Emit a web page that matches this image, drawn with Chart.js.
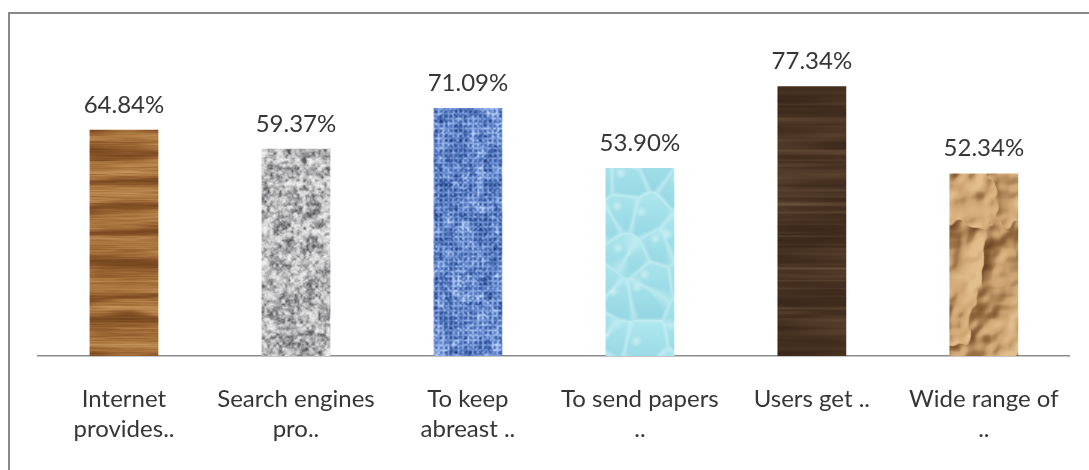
<!DOCTYPE html>
<html>
<head>
<meta charset="utf-8">
<script src="https://cdn.jsdelivr.net/npm/chart.js@4/dist/chart.umd.min.js"></script>
<style>
  html, body { margin: 0; padding: 0; background: #ffffff; overflow: hidden; }
  #frame {
    position: absolute; left: 8px; top: 12px; width: 1200px; height: 600px;
    border: 2px solid #888888; box-sizing: border-box;
  }
  #chart { position: absolute; left: 0; top: 0; }
</style>
</head>
<body>
<div id="frame"></div>
<canvas id="chart" width="1089" height="470"></canvas>
<script>
// Survey answers and their share of respondents (%)
const categories = [
  ['Internet', 'provides..'],
  ['Search engines', 'pro..'],
  ['To keep', 'abreast ..'],
  ['To send papers', '..'],
  ['Users get ..'],
  ['Wide range of', '..']
];
const shares = [64.84, 59.37, 71.09, 53.90, 77.34, 52.34];
const valueLabels = ['64.84%', '59.37%', '71.09%', '53.90%', '77.34%', '52.34%'];

// ---------- seamless procedural textures for the bar fills ----------
const TILE = 256;

function hash(ix, iy, seed) {
  let h = Math.imul(ix, 374761393) ^ Math.imul(iy, 668265263) ^ Math.imul(seed, 1442695041);
  h = Math.imul(h ^ (h >>> 13), 1274126177);
  h = h ^ (h >>> 16);
  return (h >>> 0) / 4294967296;
}

function vnoise(x, y, cx, cy, seed) {
  const px = Math.max(1, Math.round(TILE / cx)), py = Math.max(1, Math.round(TILE / cy));
  const fx = x / cx, fy = y / cy;
  const ix = Math.floor(fx), iy = Math.floor(fy);
  const tx = fx - ix, ty = fy - iy;
  const sx = tx * tx * (3 - 2 * tx), sy = ty * ty * (3 - 2 * ty);
  const x0 = ((ix % px) + px) % px, x1 = (x0 + 1) % px;
  const y0 = ((iy % py) + py) % py, y1 = (y0 + 1) % py;
  const a = hash(x0, y0, seed), b = hash(x1, y0, seed);
  const c = hash(x0, y1, seed), d = hash(x1, y1, seed);
  const top = a + (b - a) * sx, bot = c + (d - c) * sx;
  return top + (bot - top) * sy;
}

function fbm(x, y, cx, cy, oct, seed) {
  let sum = 0, amp = 0.5, tot = 0;
  for (let k = 0; k < oct; k++) {
    sum += amp * vnoise(x, y, Math.max(1, cx), Math.max(1, cy), seed + k * 17);
    tot += amp; amp *= 0.5; cx /= 2; cy /= 2;
  }
  return sum / tot;
}

const clamp = v => Math.max(0, Math.min(255, v));
const mix = (a, b, t) => [a[0] + (b[0] - a[0]) * t, a[1] + (b[1] - a[1]) * t, a[2] + (b[2] - a[2]) * t];
const ramp = (stops, t) => {
  t = Math.max(0, Math.min(1, t));
  const n = stops.length - 1, i = Math.min(n - 1, Math.floor(t * n));
  return mix(stops[i], stops[i + 1], t * n - i);
};

function makeTile(fn) {
  const c = document.createElement('canvas');
  c.width = TILE; c.height = TILE;
  const g = c.getContext('2d');
  const img = g.createImageData(TILE, TILE);
  for (let y = 0; y < TILE; y++) {
    for (let x = 0; x < TILE; x++) {
      const col = fn(x, y);
      const o = (y * TILE + x) * 4;
      img.data[o] = clamp(col[0]); img.data[o + 1] = clamp(col[1]);
      img.data[o + 2] = clamp(col[2]); img.data[o + 3] = 255;
    }
  }
  g.putImageData(img, 0, 0);
  return g.createPattern(c, 'repeat');
}

// light oak planks: soft horizontal grain with a few darker bands
function lightWood(x, y) {
  const warp = fbm(x, y, 128, 32, 3, 11);
  const ring = 0.5 + 0.5 * Math.sin(2 * Math.PI * (y / TILE * 9 + warp * 1.8));
  const streak = fbm(x, y, 64, 4, 4, 23);
  const fine = fbm(x, y, 32, 1, 2, 37);
  const dark = Math.pow(ring, 4);
  const t = 0.45 * streak + 0.3 * fine + 0.25 * (1 - ring);
  let col = ramp([[128, 78, 34], [166, 112, 58], [196, 148, 92]], (t - 0.2) * 1.6);
  return mix(col, [104, 58, 22], dark * 0.55);
}

// speckled grey granite
function granite(x, y) {
  const n = fbm(x, y, 8, 8, 3, 31) * 0.5 + fbm(x, y, 3, 3, 2, 47) * 0.5;
  const t = Math.max(0, Math.min(1, (n - 0.22) * 1.9));
  return ramp([[90, 90, 92], [150, 150, 152], [205, 205, 206], [238, 238, 238]], t);
}

// woven blue cloth
function blueCloth(x, y) {
  const gx = 0.5 + 0.5 * Math.cos(2 * Math.PI * x * 52 / TILE);
  const gy = 0.5 + 0.5 * Math.cos(2 * Math.PI * y * 52 / TILE);
  const n = fbm(x, y, 8, 8, 3, 59);
  const w = 0.5 * n + 0.25 * Math.max(gx, gy) + 0.25 * fbm(x, y, 2, 2, 1, 71);
  return ramp([[36, 62, 126], [68, 102, 172], [118, 152, 216], [184, 208, 248]], (w - 0.2) * 1.6);
}

// water droplets
function droplets(x, y) {
  const cell = 32, per = TILE / cell;
  const cx = Math.floor(x / cell), cy = Math.floor(y / cell);
  let f1 = 1e9, f2 = 1e9, fx = 0, fy = 0;
  for (let j = -1; j <= 1; j++) {
    for (let i = -1; i <= 1; i++) {
      const ix = cx + i, iy = cy + j;
      const wx = ((ix % per) + per) % per, wy = ((iy % per) + per) % per;
      const px = (ix + hash(wx, wy, 83)) * cell, py = (iy + hash(wx, wy, 97)) * cell;
      const d = Math.hypot(x - px, y - py);
      if (d < f1) { f2 = f1; f1 = d; fx = px; fy = py; } else if (d < f2) { f2 = d; }
    }
  }
  const edge = Math.max(0, 1 - (f2 - f1) / 6);
  const hl = Math.max(0, 1 - Math.hypot(x - fx + 5, y - fy + 6) / 6);
  const shade = ((y - fy) / cell) * 0.5 + 0.5;
  let col = mix([178, 232, 240], [142, 212, 224], Math.max(0, Math.min(1, shade)));
  col = mix(col, [210, 242, 248], edge * 0.55);
  col = mix(col, [236, 250, 252], hl * 0.5);
  return col;
}

// dark walnut planks
function darkWood(x, y) {
  const streak = fbm(x, y, 128, 16, 3, 101);
  const fine = fbm(x, y, 128, 4, 2, 113);
  const t = 0.7 * streak + 0.3 * fine;
  let col = ramp([[54, 36, 23], [74, 52, 35], [96, 74, 52]], (t - 0.25) * 1.8);
  const line = Math.max(0, fbm(x, y, 256, 4, 2, 127) - 0.62) * 3;
  return mix(col, [122, 98, 72], Math.min(1, line) * 0.5);
}

// crumpled kraft paper
function paperHeight(x, y) {
  const h = fbm(x, y, 64, 64, 4, 139);
  return 1 - Math.abs(2 * h - 1);
}
function paper(x, y) {
  const h = paperHeight(x, y);
  const d = paperHeight((x + 2) % TILE, (y + 2) % TILE) - h;
  let col = mix([186, 142, 92], [226, 190, 140], Math.max(0, Math.min(1, 0.45 + d * 8)));
  if (d < 0) col = mix(col, [110, 72, 36], Math.min(1, -d * 10));
  return mix(col, [128, 88, 48], Math.pow(1 - h, 4) * 0.8);
}

const fills = [lightWood, granite, blueCloth, droplets, darkWood, paper].map(makeTile);

// ---------- value labels above the bars ----------
const valueLabelPlugin = {
  id: 'valueLabels',
  afterDatasetsDraw(chart) {
    const { ctx } = chart;
    const meta = chart.getDatasetMeta(0);
    ctx.save();
    ctx.font = '24px Lato';
    ctx.fillStyle = '#363636';
    ctx.textAlign = 'center';
    ctx.textBaseline = 'alphabetic';
    meta.data.forEach((bar, i) => {
      ctx.fillText(valueLabels[i], bar.x, bar.y - 17);
    });
    ctx.restore();
  }
};

new Chart(document.getElementById('chart'), {
  type: 'bar',
  data: {
    labels: categories,
    datasets: [{
      data: shares,
      backgroundColor: fills,
      borderWidth: 0,
      barPercentage: 0.4,
      categoryPercentage: 1.0
    }]
  },
  options: {
    responsive: false,
    animation: false,
    devicePixelRatio: 1,
    layout: { padding: { left: 38, right: 17, top: 42, bottom: 0 } },
    plugins: { legend: { display: false }, tooltip: { enabled: false } },
    scales: {
      x: {
        grid: { display: false, drawTicks: false },
        border: { display: true, color: '#8c8c8c', width: 1.5 },
        ticks: {
          color: '#363636',
          font: { family: 'Lato', size: 24, lineHeight: 1.22 },
          padding: 29,
          maxRotation: 0,
          autoSkip: false
        },
        afterFit(scale) { scale.height = 114; }
      },
      y: {
        display: false,
        min: 0,
        max: 90
      }
    }
  },
  plugins: [valueLabelPlugin]
});
</script>
</body>
</html>
